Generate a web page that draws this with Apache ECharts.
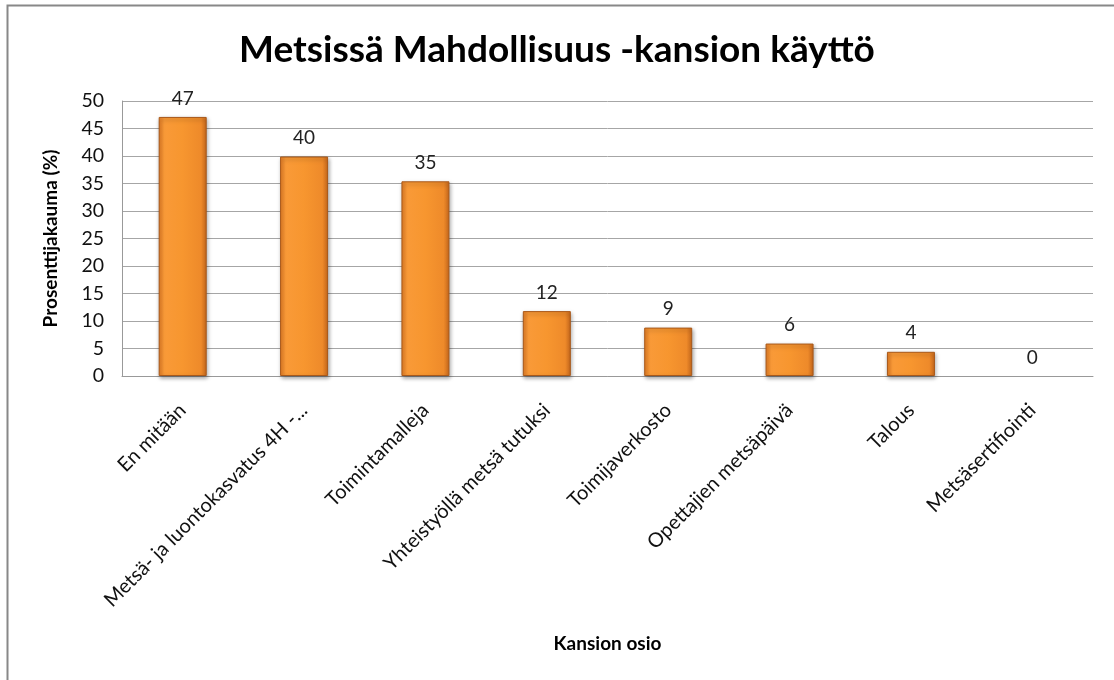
<!DOCTYPE html>
<html>
<head>
<meta charset="utf-8">
<script src="https://cdn.jsdelivr.net/npm/echarts@6/dist/echarts.min.js"></script>
<style>
  html, body { margin: 0; padding: 0; background: #fff; }
  #chart { width: 1114px; height: 680px; }
</style>
</head>
<body>
<div id="chart"></div>
<script>
// data
var categories = [
    'En mitään',
    'Metsä- ja luontokasvatus 4H -...',
    'Toimintamalleja',
    'Yhteistyöllä metsä tutuksi',
    'Toimijaverkosto',
    'Opettajien metsäpäivä',
    'Talous',
    'Metsäsertifiointi'
]
var shares = [47.1, 39.9, 35.4, 11.8, 8.8, 5.9, 4.4, 0]
var yMin = 0, yMax = 50, yStep = 5

var font = 'Lato'
var myChart = echarts.init(document.getElementById('chart'))

// a zero bar should not leave a visible sliver
var barData = shares.map(function (v) {
    if (v !== 0) return v
    return { value: v, itemStyle: { borderWidth: 0, shadowColor: 'transparent', opacity: 0 } }
})

var option = {
    animation: false,
    title: {
        text: 'Metsissä Mahdollisuus -kansion käyttö',
        left: 'center',
        top: 27,
        textStyle: { fontFamily: font, fontSize: 37, fontWeight: 'bold', color: '#000' }
    },
    graphic: [{
        type: 'rect',
        shape: { x: 7.5, y: 5.5, width: 1300, height: 900 },
        style: { fill: 'none', stroke: '#888', lineWidth: 2 },
        silent: true
    }],
    grid: { left: 122, right: 21, top: 101, bottom: 304, outerBoundsMode: 'none' },
    xAxis: {
        type: 'category',
        data: categories,
        name: 'Kansion osio',
        nameLocation: 'middle',
        nameGap: 258,
        nameTextStyle: { fontFamily: font, fontSize: 19, fontWeight: 'bold', color: '#000' },
        axisLine: { lineStyle: { color: '#999', width: 1 } },
        axisTick: { show: false },
        axisLabel: { rotate: 45, margin: 31, fontFamily: font, fontSize: 20, color: '#111', interval: 0 }
    },
    yAxis: {
        type: 'value',
        min: yMin,
        max: yMax,
        interval: yStep,
        name: 'Prosenttijakauma (%)',
        nameLocation: 'middle',
        nameGap: 62,
        nameTextStyle: { fontFamily: font, fontSize: 19, fontWeight: 'bold', color: '#000' },
        axisLine: { show: true, lineStyle: { color: '#999', width: 1 } },
        axisTick: { show: false },
        axisLabel: { margin: 18, fontFamily: font, fontSize: 19.5, color: '#111' },
        splitLine: { lineStyle: { color: '#a6a6a6', width: 1 } }
    },
    series: [{
        type: 'bar',
        data: barData,
        barWidth: 48,
        itemStyle: {
            color: new echarts.graphic.LinearGradient(0, 0, 1, 0, [
                { offset: 0, color: '#e47d25' },
                { offset: 0.12, color: '#f99a38' },
                { offset: 0.5, color: '#f7962f' },
                { offset: 0.88, color: '#ee8a2a' },
                { offset: 1, color: '#c9691c' }
            ]),
            borderColor: '#a9591a',
            borderWidth: 1,
            shadowColor: 'rgba(0,0,0,0.35)',
            shadowBlur: 4,
            shadowOffsetX: 1,
            shadowOffsetY: 2
        },
        label: {
            show: true,
            position: 'top',
            distance: 9,
            fontFamily: font,
            fontSize: 19,
            color: '#222',
            opacity: 1,
            formatter: function (p) { return Math.round(p.value) }
        }
    }]
}
myChart.setOption(option)
</script>
</body>
</html>
